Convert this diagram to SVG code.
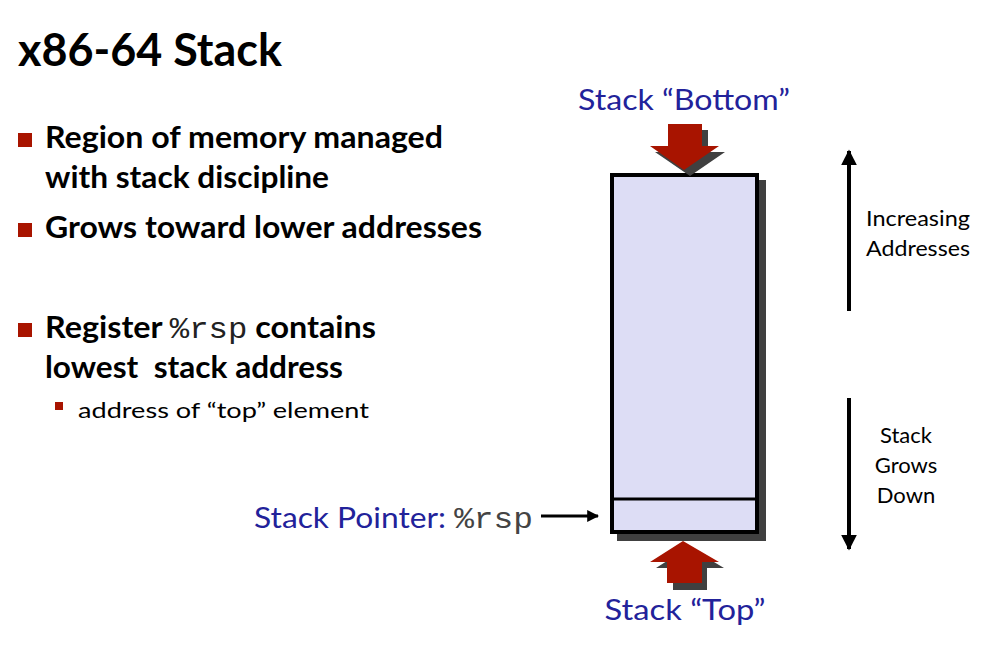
<svg xmlns="http://www.w3.org/2000/svg" width="985" height="671" viewBox="0 0 985 671">
<style>
.sans{font-family:Lato,"Open Sans","Liberation Sans",sans-serif}
.b{font-weight:bold;fill:#000}
.blue{fill:#22229A}
.mono{font-family:"Liberation Mono","Courier New",monospace;font-weight:normal}
.red{fill:#A81400}
.shadow{fill:#404040}
.lbl{font-size:22px;fill:#000;text-anchor:middle}
</style>
<defs>
<marker id="ah" viewBox="0 0 10 10" refX="9" refY="5" markerWidth="4" markerHeight="4" orient="auto">
<path d="M0,0 L10,5 L0,10 z" fill="#000"/>
</marker>
</defs>
<rect width="985" height="671" fill="#fff"/>

<g id="title">
<text class="sans b" x="18" y="66" font-size="46" textLength="264" lengthAdjust="spacingAndGlyphs">x86-64 Stack</text>
</g>

<g id="bullets">
<rect class="red" x="18" y="133" width="14" height="14"/>
<text class="sans b" x="45" y="148" font-size="30" textLength="398" lengthAdjust="spacingAndGlyphs">Region of memory managed</text>
<text class="sans b" x="45" y="188" font-size="30" textLength="284" lengthAdjust="spacingAndGlyphs">with stack discipline</text>
<rect class="red" x="18" y="223" width="14" height="14"/>
<text class="sans b" x="45" y="238" font-size="30" textLength="437" lengthAdjust="spacingAndGlyphs">Grows toward lower addresses</text>
<rect class="red" x="18" y="323" width="14" height="14"/>
<text class="sans b" x="45" y="338" font-size="30" textLength="331" lengthAdjust="spacingAndGlyphs">Register <tspan class="mono" font-size="30" fill="#222">%rsp</tspan> contains</text>
<text class="sans b" x="45" y="378" font-size="30" textLength="298" lengthAdjust="spacingAndGlyphs">lowest&#160; stack address</text>
<rect class="red" x="55" y="402" width="8" height="8"/>
<text class="sans" x="78" y="418" font-size="22" fill="#000" textLength="291" lengthAdjust="spacingAndGlyphs">address of “top” element</text>
</g>

<g id="stack">
<rect class="shadow" x="617" y="180" width="149" height="361"/>
<rect x="612" y="175" width="145" height="357" fill="#DDDDF5" stroke="#000" stroke-width="4"/>
<line x1="612" y1="499" x2="757" y2="499" stroke="#000" stroke-width="3"/>
</g>

<g id="bottom-label">
<text class="sans blue" x="684" y="110" font-size="29" text-anchor="middle" textLength="212" lengthAdjust="spacingAndGlyphs">Stack “Bottom”</text>
</g>

<g id="bottom-arrow">
<polygon class="shadow" points="674,130 708,130 708,152 725,152 690,176 655,152 674,152"/>
<polygon class="red" points="668,124 702,124 702,146 719,146 684,170 650,146 668,146"/>
</g>

<g id="top-arrow">
<polygon class="shadow" points="689,547 724,568 707,568 707,590 673,590 673,568 656,568"/>
<polygon class="red" points="683,541 719,562 702,562 702,583 667,583 667,562 650,562"/>
</g>

<g id="top-label">
<text class="sans blue" x="685" y="620" font-size="29" text-anchor="middle" textLength="161" lengthAdjust="spacingAndGlyphs">Stack “Top”</text>
</g>

<g id="stack-pointer">
<text class="sans blue" x="254" y="528" font-size="29" textLength="279" lengthAdjust="spacingAndGlyphs">Stack Pointer: <tspan class="mono" fill="#444" font-size="30">%rsp</tspan></text>
</g>

<g id="increasing-label">
<text class="sans lbl" x="918" y="226" textLength="104" lengthAdjust="spacingAndGlyphs">Increasing</text>
<text class="sans lbl" x="918" y="256" textLength="104" lengthAdjust="spacingAndGlyphs">Addresses</text>
</g>

<g id="grows-label">
<text class="sans lbl" x="906" y="443">Stack</text>
<text class="sans lbl" x="906" y="473">Grows</text>
<text class="sans lbl" x="906" y="503">Down</text>
</g>

<g id="connectors">
<line x1="541" y1="516" x2="598" y2="516" stroke="#000" stroke-width="3" marker-end="url(#ah)"/>
<line x1="849" y1="311" x2="849" y2="151" stroke="#000" stroke-width="4" marker-end="url(#ah)"/>
<line x1="849" y1="398" x2="849" y2="549" stroke="#000" stroke-width="4" marker-end="url(#ah)"/>
</g>
</svg>
